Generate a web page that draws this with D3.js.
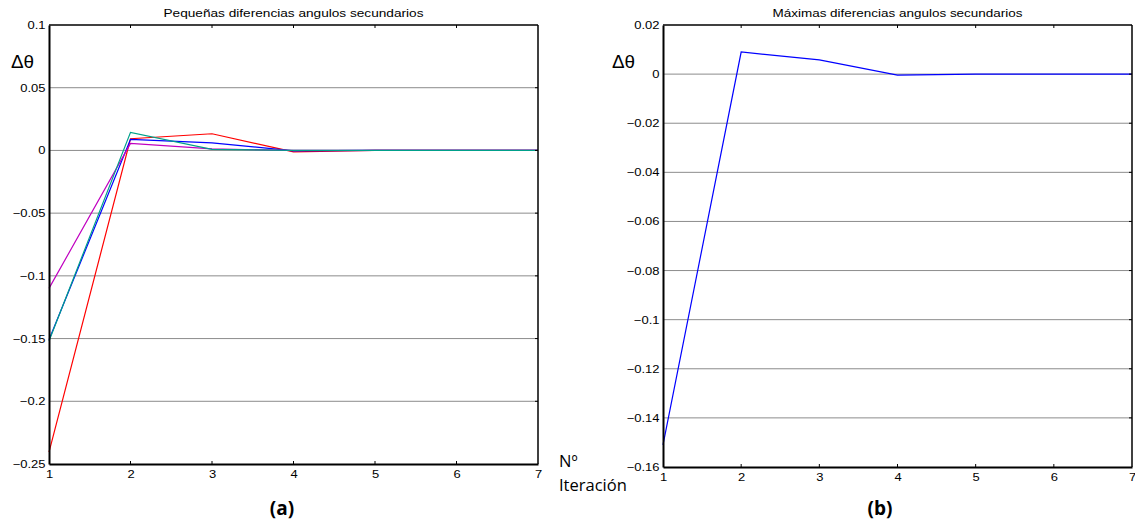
<!DOCTYPE html>
<html>
<head>
<meta charset="utf-8">
<script src="https://cdn.jsdelivr.net/npm/d3@7"></script>
<style>
  body { margin: 0; background: #fff; }
  svg { display: block; }
</style>
</head>
<body>
<svg id="chart" width="1135" height="525"></svg>
<script>
// iteration numbers (x axis)
const iterations = [1, 2, 3, 4, 5, 6, 7];

// panel (a): small differences, four series
const redA = [-0.2405, 0.0093, 0.0133, -0.0012, 0, 0, 0];
const greenA = [-0.152, 0.0144, 0.0008, 0, 0, 0, 0];
const blueA = [-0.151, 0.0088, 0.006, -0.0003, 0, 0, 0];
const magentaA = [-0.110, 0.0056, 0.0012, 0, 0, 0, 0];

// panel (b): maximum differences, one series
const blueB = [-0.151, 0.009, 0.0058, -0.0004, 0, 0, 0];

const yTicksA = [0.1, 0.05, 0, -0.05, -0.1, -0.15, -0.2, -0.25];
const yTicksB = [0.02, 0, -0.02, -0.04, -0.06, -0.08, -0.1, -0.12, -0.14, -0.16];

const titleA = 'Pequeñas diferencias angulos secundarios';
const titleB = 'Máximas diferencias angulos secundarios';

const svg = d3.select('#chart');
const ARIAL = 'Liberation Sans, Arial, sans-serif';
const STRETCH = 1.18; // the source figure is a bit wider than tall

function drawPanel(cfg) {
  const { left, right, top, bottom, yDomain, yTicks, series, title, tag } = cfg;
  const g = svg.append('g');

  const x = d3.scaleLinear().domain([1, 7]).range([left, right]);
  const y = d3.scaleLinear().domain(yDomain).range([bottom, top]);

  // grid lines
  g.selectAll('.grid')
    .data(yTicks.filter(v => v !== yDomain[0] && v !== yDomain[1]))
    .join('line')
    .attr('x1', left).attr('x2', right)
    .attr('y1', d => y(d)).attr('y2', d => y(d))
    .attr('stroke', '#8c8c8c')
    .attr('stroke-width', 1);

  // series
  const line = d3.line().x((d, i) => x(iterations[i])).y(d => y(d));
  series.forEach(s => {
    g.append('path')
      .datum(s.values)
      .attr('fill', 'none')
      .attr('stroke', s.color)
      .attr('stroke-width', 1.2)
      .attr('d', line);
  });

  // left axis
  const yAxis = d3.axisLeft(y).tickValues(yTicks).tickSize(0).tickPadding(3)
    .tickFormat(d => d3.format('')(+d.toFixed(2)));
  g.append('g')
    .attr('transform', `translate(${left},0)`)
    .call(yAxis)
    .call(a => a.select('.domain').attr('stroke', '#000').attr('stroke-width', 2))
    .call(a => a.selectAll('text')
      .attr('font-family', ARIAL)
      .attr('font-size', 11)
      .attr('fill', '#000')
      .attr('transform', `scale(${STRETCH},1)`));

  // bottom axis
  const xAxis = d3.axisBottom(x).tickValues(iterations).tickSize(0).tickPadding(6)
    .tickFormat(d3.format('d'));
  g.append('g')
    .attr('transform', `translate(0,${bottom})`)
    .call(xAxis)
    .call(a => a.select('.domain').attr('stroke', '#000').attr('stroke-width', 2))
    .call(a => a.selectAll('text')
      .attr('font-family', ARIAL)
      .attr('font-size', 11)
      .attr('fill', '#000')
      .attr('transform', `scale(${STRETCH},1)`));

  // box top / right
  g.append('line').attr('x1', left).attr('x2', right).attr('y1', top).attr('y2', top)
    .attr('stroke', '#000').attr('stroke-width', 1.5);
  g.append('line').attr('x1', right).attr('x2', right).attr('y1', top).attr('y2', bottom)
    .attr('stroke', '#000').attr('stroke-width', 1.5);

  // inward ticks on top and bottom
  iterations.slice(1, -1).forEach(v => {
    g.append('line').attr('x1', x(v)).attr('x2', x(v)).attr('y1', top).attr('y2', top + 3)
      .attr('stroke', '#000');
    g.append('line').attr('x1', x(v)).attr('x2', x(v)).attr('y1', bottom).attr('y2', bottom - 3)
      .attr('stroke', '#000');
  });
  // inward ticks on right
  yTicks.slice(1, -1).forEach(v => {
    g.append('line').attr('x1', right).attr('x2', right - 3).attr('y1', y(v)).attr('y2', y(v))
      .attr('stroke', '#000');
  });

  // title, stretched to the width it has in the source
  g.append('text')
    .attr('x', (left + right) / 2 - cfg.titleWidth / 2).attr('y', top - 8)
    .attr('textLength', cfg.titleWidth)
    .attr('lengthAdjust', 'spacingAndGlyphs')
    .attr('font-family', ARIAL)
    .attr('font-size', 11.5)
    .text(title);

  // Δθ label
  g.append('text')
    .attr('transform', `translate(${cfg.deltaX},${top + 43}) scale(1.05,1)`)
    .attr('font-family', ARIAL)
    .attr('font-size', 18)
    .text('Δθ');

  // panel tag
  g.append('text')
    .attr('x', cfg.tagX).attr('y', 515)
    .attr('text-anchor', 'middle')
    .attr('font-family', 'Open Sans, Noto Sans, sans-serif')
    .attr('font-weight', 'bold')
    .attr('font-size', 19)
    .text(tag);
}

drawPanel({
  left: 49, right: 538, top: 25, bottom: 464,
  yDomain: [-0.25, 0.1], yTicks: yTicksA,
  series: [
    { values: redA, color: '#ff0000' },
    { values: blueA, color: '#0000ff' },
    { values: magentaA, color: '#c000c0' },
    { values: greenA, color: '#00a08a' }
  ],
  title: titleA, titleWidth: 260, tag: '(a)', tagX: 282, deltaX: 11
});

drawPanel({
  left: 663, right: 1132, top: 25, bottom: 467,
  yDomain: [-0.16, 0.02], yTicks: yTicksB,
  series: [{ values: blueB, color: '#0000ff' }],
  title: titleB, titleWidth: 250, tag: '(b)', tagX: 880, deltaX: 612
});

// x axis label between the panels
const xLabel = svg.append('text')
  .attr('font-family', 'Open Sans, Noto Sans, sans-serif')
  .attr('font-size', 16.5)
  .attr('fill', '#000');
xLabel.append('tspan').attr('x', 559).attr('y', 467).text('Nº');
xLabel.append('tspan').attr('x', 559).attr('y', 491).text('Iteración');
</script>
</body>
</html>
